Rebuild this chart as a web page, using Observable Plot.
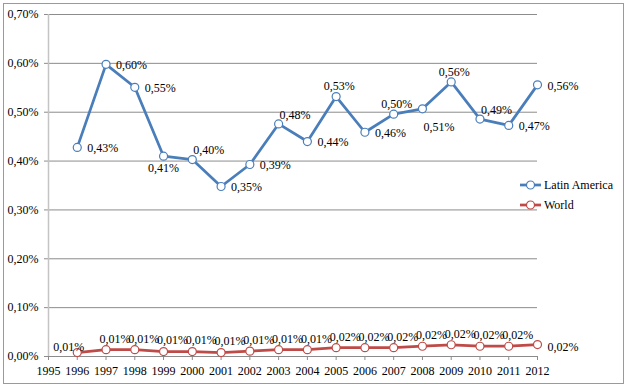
<!DOCTYPE html>
<html>
<head>
<meta charset="utf-8">
<script src="https://cdn.jsdelivr.net/npm/d3@7"></script>
<script src="https://cdn.jsdelivr.net/npm/@observablehq/plot@0.6"></script>
<style>
  html, body { margin: 0; padding: 0; background: #fff; }
  #wrap { position: relative; width: 633px; height: 386px; font-family: "Liberation Serif", Tinos, "Times New Roman", Times, "DejaVu Serif", serif; }
  #border { position: absolute; left: 3px; top: 3px; width: 619px; height: 379px; border: 1px solid #9a9a9a; pointer-events: none; }
  #legend { position: absolute; left: 519px; top: 175px; font-size: 12px; color: #000; }
  #legend .item { display: flex; align-items: center; height: 20px; }
  #legend svg { margin-right: 2px; }
  #chart svg text { font-family: "Liberation Serif", Tinos, "Times New Roman", Times, "DejaVu Serif", serif; }
</style>
</head>
<body>
<div id="wrap"><div id="chart"></div><div id="border"></div><div id="legend"></div></div>
<script>
// ---- data ----
const years = [1996, 1997, 1998, 1999, 2000, 2001, 2002, 2003, 2004, 2005, 2006, 2007, 2008, 2009, 2010, 2011, 2012];
const latinAmerica = [0.428, 0.598, 0.551, 0.410, 0.403, 0.348, 0.393, 0.476, 0.440, 0.532, 0.459, 0.496, 0.507, 0.562, 0.486, 0.473, 0.556];
const world = [0.008, 0.014, 0.014, 0.010, 0.010, 0.008, 0.011, 0.014, 0.014, 0.018, 0.018, 0.018, 0.021, 0.024, 0.021, 0.021, 0.0245];
const xTicks = [1995, 1996, 1997, 1998, 1999, 2000, 2001, 2002, 2003, 2004, 2005, 2006, 2007, 2008, 2009, 2010, 2011, 2012];
const yTicks = [0, 0.1, 0.2, 0.3, 0.4, 0.5, 0.6, 0.7];
const seriesNames = ["Latin America", "World"];

// label placement keys (layout only)
const laPlace = ["R","R","R","B","AR","R","R","AR","R","A","R","A","BR","A","AR","R","R"];
const worldPlace = ["L","A","A","A","A","A","A","A","A","A","A","A","A","A","A","A","R"];

const colors = {"Latin America": "#4a7ebb", "World": "#be4b48"};
const fmt = v => v.toFixed(2).replace(".", ",") + "%";
const serif = "'Liberation Serif', Tinos, 'Times New Roman', Times, 'DejaVu Serif', serif";

const laData = years.map((y, i) => ({year: y, value: latinAmerica[i], place: laPlace[i], series: "Latin America"}));
const wData = years.map((y, i) => ({year: y, value: world[i], place: worldPlace[i], series: "World"}));

const laOffsets = {
  R:  {textAnchor: "start", dx: 10, dy: 1},
  A:  {textAnchor: "middle", dx: 3, dy: -10},
  AR: {textAnchor: "start", dx: 1, dy: -9},
  B:  {textAnchor: "middle", dx: 0, dy: 12},
  BR: {textAnchor: "start", dx: 1, dy: 18}
};
const wOffsets = {
  L: {textAnchor: "end", dx: 7, dy: -5},
  A: {textAnchor: "middle", dx: 9, dy: -11},
  R: {textAnchor: "start", dx: 10, dy: 3}
};

function labelMarks(data, offsets) {
  return Object.entries(offsets).map(([key, o]) =>
    Plot.text(data.filter(d => d.place === key), {
      x: "year", y: "value", text: d => fmt(d.value),
      textAnchor: o.textAnchor, dx: o.dx, dy: o.dy,
      fontSize: 12, fill: "#000", fontFamily: serif
    })
  );
}

const chart = Plot.plot({
  width: 633,
  height: 386,
  marginLeft: 48,
  marginRight: 96,
  marginTop: 14,
  marginBottom: 30,
  style: {fontFamily: serif, fontSize: "12px", background: "transparent", color: "#000"},
  x: {domain: [1995, 2012], label: null},
  y: {domain: [0, 0.7], label: null},
  marks: [
    Plot.gridY(yTicks, {stroke: "#8c8c8c", strokeOpacity: 1}),
    Plot.axisY(yTicks, {tickSize: 4, tickPadding: 6, tickFormat: fmt, stroke: "#8c8c8c", fontSize: 12, fill: "#000", label: null, fontFamily: serif}),
    Plot.ruleX([1995], {stroke: "#c4c4c4", strokeWidth: 1.5}),
    Plot.ruleY([0], {stroke: "#8c8c8c"}),
    Plot.axisX(xTicks, {tickSize: 4, tickPadding: 6, tickFormat: d => String(d), stroke: "#8c8c8c", fontSize: 12, fill: "#000", label: null, fontFamily: serif}),
    Plot.line(laData, {x: "year", y: "value", stroke: colors["Latin America"], strokeWidth: 2.75}),
    Plot.dot(laData, {x: "year", y: "value", r: 4, fill: "#fff", stroke: colors["Latin America"], strokeWidth: 1.2}),
    Plot.line(wData, {x: "year", y: "value", stroke: colors["World"], strokeWidth: 2.75}),
    Plot.dot(wData, {x: "year", y: "value", r: 4, fill: "#fff", stroke: colors["World"], strokeWidth: 1.2}),
    ...labelMarks(laData, laOffsets),
    ...labelMarks(wData, wOffsets)
  ]
});
document.getElementById("chart").appendChild(chart);

// legend
const legend = document.getElementById("legend");
seriesNames.forEach(name => {
  const item = document.createElement("div");
  item.className = "item";
  item.innerHTML = `<svg width="23" height="12"><line x1="1" y1="6" x2="22" y2="6" stroke="${colors[name]}" stroke-width="2.75"/><circle cx="11.5" cy="6" r="4" fill="#fff" stroke="${colors[name]}" stroke-width="1.2"/></svg><span>${name}</span>`;
  legend.appendChild(item);
});
</script>
</body>
</html>
